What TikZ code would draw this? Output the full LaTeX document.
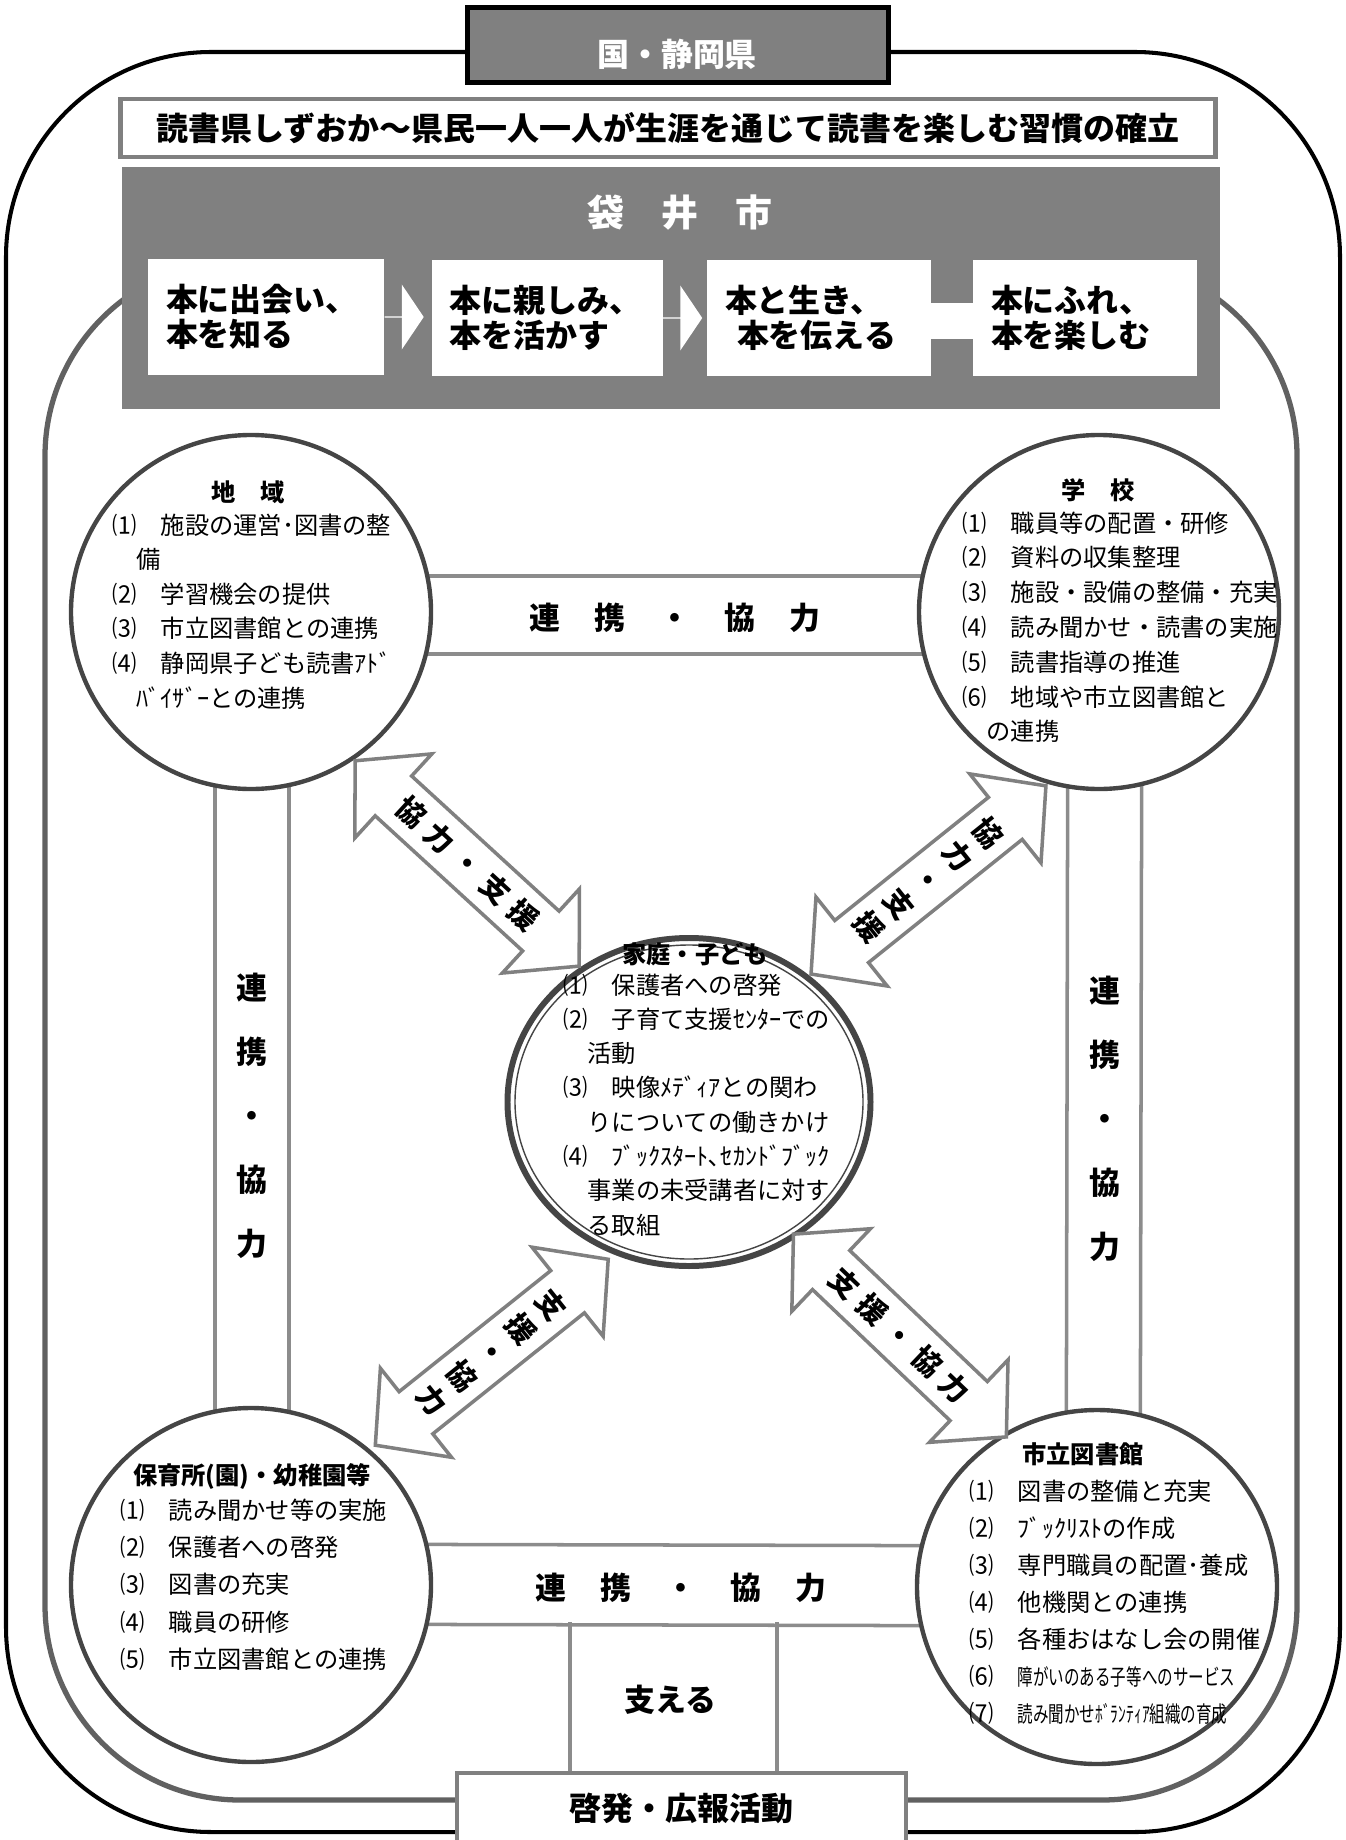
\documentclass[tikz,border=0pt]{standalone}
\usepackage{fontspec}
\usepackage{graphicx}
\setmainfont{Noto Sans CJK JP}
\usetikzlibrary{shapes.geometric,shapes.arrows,backgrounds}
\definecolor{midgray}{gray}{0.5}
\definecolor{ringgray}{gray}{0.27}
\definecolor{framegray}{gray}{0.38}
\definecolor{bandgray}{gray}{0.55}
\newcommand{\itemsize}{\fontsize{13.8pt}{19.6pt}\selectfont}
\newcommand{\stepsize}{\fontsize{18.2pt}{19.9pt}\selectfont}
\newcommand{\titlesize}{\fontsize{18.2pt}{22pt}\selectfont}
\newcommand{\citysize}{\fontsize{21pt}{25pt}\selectfont}
\newcommand{\bandsize}{\fontsize{17.6pt}{36.4pt}\selectfont}
\newcommand{\arrsize}{\fontsize{16.5pt}{21.6pt}\selectfont}
\newcommand{\bandgap}{\hspace{6.8mm}}
\newcommand{\arrgap}{\hspace{1.8mm}}
\newcommand{\narrow}[1]{\scalebox{0.64}[0.92]{#1}}
% block arrow: centre, angle, half length
\newcommand{\blockarrow}[3]{\draw[darrow,shift={(#1)},rotate=#2] (-#3,0) -- (-#3+52,-57) -- (-#3+52,-27) -- (#3-52,-27) -- (#3-52,-57) -- (#3,0) -- (#3-52,57) -- (#3-52,27) -- (-#3+52,27) -- (-#3+52,57) -- cycle;}
\begin{document}
\begin{tikzpicture}[x=0.2mm,y=-0.2mm,
  ring/.style={ellipse,draw=ringgray,line width=2.5pt,fill=white,inner sep=0pt,minimum width=72mm,minimum height=70.8mm},
  band/.style={draw=bandgray,line width=2pt},
  stepbox/.style={fill=white,minimum height=23.2mm,inner xsep=3.6mm,align=left,font=\stepsize\bfseries},
  flowarr/.style={single arrow,fill=white,inner sep=0pt,anchor=tail,minimum height=7.8mm,minimum width=13mm,single arrow head extend=3.7mm,single arrow tip angle=112},
  darrow/.style={draw=midgray,fill=white,line width=2pt,line join=miter},
  ringitem/.style={anchor=base west,inner sep=0pt,font=\itemsize},
  ringhead/.style={inner sep=0pt,font=\itemsize\bfseries},
  bandtext/.style={inner sep=0pt,align=center,font=\bandsize\bfseries},
  arrtext/.style={inner sep=0pt,align=center,font=\arrsize\bfseries}]
\useasboundingbox (0,0) rectangle (1345,1840);
% frames
\draw[line width=2.3pt,rounded corners=41mm] (6,52) rectangle (1340,1832);
\draw[framegray,line width=3pt,rounded corners=39mm] (45,261) rectangle (1297,1800);
% city panel
\node[fill=midgray,inner sep=0pt,minimum width=219.7mm,minimum height=48.2mm] (fukuroi) at (671,288) {};
\node[font=\citysize\bfseries,text=white] (cityname) at (680,213) {袋　井　市};
\node[stepbox,minimum width=47.2mm,text width=40mm] (step1) at (266,317) {本に出会い、\\本を知る};
\node[stepbox,minimum width=46.2mm,text width=39mm] (step2) at (547,318) {本に親しみ、\\本を活かす};
\node[stepbox,minimum width=44.8mm,text width=37.6mm] (step3) at (819,318) {本と生き、\\\hspace*{2.4mm}本を伝える};
\node[stepbox,minimum width=44.8mm,text width=37.6mm] (step4) at (1085,318) {本にふれ、\\本を楽しむ};
\node[flowarr] (flow1) at (step1.east) {};
\node[flowarr] (flow2) at (step2.east) {};
\draw[white,line width=7.2mm] ([yshift=-0.6mm]step3.east) -- ([yshift=-0.6mm]step4.west);
% title and header
\node[draw=midgray,line width=2.5pt,fill=white,minimum width=219mm,minimum height=11.6mm,font=\titlesize\bfseries] (motto) at (668,128) {読書県しずおか～県民一人一人が生涯を通じて読書を楽しむ習慣の確立};
\node[draw=black,line width=2.3pt,fill=midgray,minimum width=84.2mm,minimum height=15mm] (kuni) at (678,45) {};
\node[font=\titlesize\bfseries,text=white] (kunitext) at (677,54) {国・静岡県};
% circles
\node[ring] (chiiki) at (251,612) {};
\node[ring] (gakkou) at (1099,612) {};
\node[ring,minimum width=72.6mm,minimum height=65.6mm,line width=3.4pt] (katei) at (689,1102) {};
\draw[ringgray,line width=0.8pt] (katei.center) ellipse [x radius=34.8mm,y radius=31.4mm];
\node[ring] (hoiku) at (251,1585) {};
\node[ring] (toshokan) at (1097,1587) {};
% bands
\begin{scope}[on background layer]
\draw[band] ([yshift=7.2mm]chiiki.center) -- ([yshift=7.2mm]gakkou.center);
\draw[band] ([yshift=-8.4mm]chiiki.center) -- ([yshift=-8.4mm]gakkou.center);
\draw[band] ([yshift=8.2mm]hoiku.center) -- ([yshift=8.2mm]toshokan.center);
\draw[band] ([yshift=-7.8mm]hoiku.center) -- ([yshift=-7.8mm]toshokan.center);
\draw[band] ([xshift=-7.2mm]chiiki.center) -- ([xshift=-7.2mm]hoiku.center);
\draw[band] ([xshift=7.6mm]chiiki.center) -- ([xshift=7.6mm]hoiku.center);
\draw[band] ([xshift=-6.2mm]gakkou.center) -- ([xshift=-6.2mm]toshokan.center);
\draw[band] ([xshift=8.6mm]gakkou.center) -- ([xshift=8.6mm]toshokan.center);
\end{scope}
\node[bandtext] (renkeitop) at (675,618) {連\bandgap 携\bandgap ・\bandgap 協\bandgap 力};
\node[bandtext] (renkeibottom) at (681,1588) {連\bandgap 携\bandgap ・\bandgap 協\bandgap 力};
\node[bandtext] (renkeileft) at (252,1116) {連\\携\\・\\協\\力};
\node[bandtext] (renkeiright) at (1105,1119) {連\\携\\・\\協\\力};
% support
\node[draw=midgray,line width=2.3pt,fill=white,minimum width=89.8mm,minimum height=14mm,font=\titlesize\bfseries] (keihatsu) at (681.5,1808) {啓発・広報活動};
\begin{scope}[on background layer]
\draw[band] ([xshift=-22.3mm]keihatsu.north) -- ++(0,-149);
\draw[band] ([xshift=19.1mm]keihatsu.north) -- ++(0,-149);
\end{scope}
\node[bandtext] (sasaeru) at (670,1700) {支える};
% arrows
\path (chiiki.-55) -- (katei.129) coordinate[midway] (nwmid);
\path (gakkou.-107) -- (katei.46) coordinate[midway] (nemid);
\path (katei.-117) -- (hoiku.48) coordinate[midway] (swmid);
\path (katei.-52) -- (toshokan.121) coordinate[midway] (semid);
\blockarrow{nwmid}{-42.5}{152}
\blockarrow{nemid}{38.7}{150.5}
\blockarrow{swmid}{38.6}{149}
\blockarrow{semid}{-43.6}{147}
\node[arrtext,rotate=-42.5] (nwtext) at (nwmid) {協\arrgap 力\arrgap ・\arrgap 支\arrgap 援};
\node[arrtext,rotate=-51.3] (netext) at (nemid) {協\\力\\・\\支\\援};
\node[arrtext,rotate=-51.4] (swtext) at (swmid) {支\\援\\・\\協\\力};
\node[arrtext,rotate=-43.6] (setext) at (semid) {支\arrgap 援\arrgap ・\arrgap 協\arrgap 力};
% circle texts
\node[ringhead] (chiikihead) at (248,492) {地　域};
\foreach \entry [count=\i from 0] in {⑴　施設の運営･図書の整,　備,⑵　学習機会の提供,⑶　市立図書館との連携,⑷　静岡県子ども読書ｱﾄﾞ,　ﾊﾞｲｻﾞｰとの連携}
  \node[ringitem] (chiiki-\i) at (112,534+34.6*\i) {\entry};
\node[ringhead] (gakkouhead) at (1098,490) {学　校};
\foreach \entry [count=\i from 0] in {⑴　職員等の配置・研修,⑵　資料の収集整理,⑶　施設・設備の整備・充実,⑷　読み聞かせ・読書の実施,⑸　読書指導の推進,⑹　地域や市立図書館と,　の連携}
  \node[ringitem] (gakkou-\i) at (962,532+34.8*\i) {\entry};
\node[ringhead] (kateihead) at (695,954) {家庭・子ども};
\foreach \entry [count=\i from 0] in {⑴　保護者への啓発,⑵　子育て支援ｾﾝﾀｰでの,　活動,⑶　映像ﾒﾃﾞｨｱとの関わ,　りについての働きかけ,⑷　ﾌﾞｯｸｽﾀｰﾄ､ｾｶﾝﾄﾞﾌﾞｯｸ,　事業の未受講者に対す,　る取組}
  \node[ringitem] (katei-\i) at (563,994+34.3*\i) {\entry};
\node[ringhead] (hoikuhead) at (252,1476) {保育所(園)・幼稚園等};
\foreach \entry [count=\i from 0] in {⑴　読み聞かせ等の実施,⑵　保護者への啓発,⑶　図書の充実,⑷　職員の研修,⑸　市立図書館との連携}
  \node[ringitem] (hoiku-\i) at (120,1519+37.4*\i) {\entry};
\node[ringhead] (toshokanhead) at (1083,1454) {市立図書館};
\foreach \entry [count=\i from 0] in {⑴　図書の整備と充実,⑵　ﾌﾞｯｸﾘｽﾄの作成,⑶　専門職員の配置･養成,⑷　他機関との連携,⑸　各種おはなし会の開催,{⑹　\narrow{障がいのある子等へのサービス}},{⑺　\narrow{読み聞かせﾎﾞﾗﾝﾃｨｱ組織の育成}}}
  \node[ringitem] (toshokan-\i) at (969,1500+37*\i) {\entry};
\end{tikzpicture}
\end{document}
